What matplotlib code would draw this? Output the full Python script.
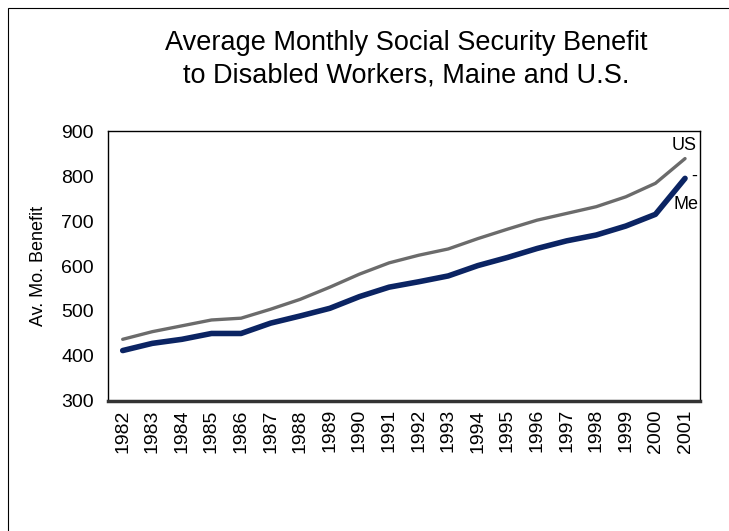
import matplotlib
matplotlib.use("Agg")
import matplotlib.pyplot as plt
from matplotlib.patches import Rectangle

plt.rcParams['font.family'] = ['Liberation Sans', 'DejaVu Sans']

# ----------- Data -----------
years = list(range(1982, 2002))
us_benefit = [437, 454, 467, 480, 484, 504, 526, 553, 582, 607,
              624, 638, 661, 682, 702, 717, 732, 754, 784, 839]
maine_benefit = [412, 428, 437, 450, 450, 473, 489, 506, 532, 553,
                 565, 578, 601, 619, 639, 656, 669, 689, 715, 795]
y_ticks = [300, 400, 500, 600, 700, 800, 900]

US_COLOR = "#6b6b6b"
ME_COLOR = "#0b2463"

fig = plt.figure(figsize=(7.29, 5.31), dpi=100)
ax = fig.add_axes([0.148, 0.245, 0.812, 0.508])

# outer chart-area border (runs off the right and bottom edges)
fig.patches.append(Rectangle((8 / 729, -0.1), 1.2, 1 - 8 / 531 + 0.1,
                             transform=fig.transFigure, fill=False,
                             edgecolor="black", linewidth=0.8))

ax.plot(years, us_benefit, color=US_COLOR, linewidth=2.4, solid_capstyle="round")
ax.plot(years, maine_benefit, color=ME_COLOR, linewidth=4.0, solid_capstyle="round")

ax.set_xlim(1981.5, 2001.5)
ax.set_ylim(300, 900)
ax.set_yticks(y_ticks)
ax.set_xticks(years)
ax.set_xticklabels([str(y) for y in years], rotation=90, fontsize=14)
ax.tick_params(axis="y", labelsize=14, length=0, pad=10)
ax.tick_params(axis="x", length=0, pad=6)
ax.set_ylabel("Av. Mo. Benefit", fontsize=13, labelpad=10)

for side in ["left", "top", "right"]:
    ax.spines[side].set_linewidth(1.0)
ax.spines["bottom"].set_linewidth(2.5)
ax.spines["bottom"].set_color("#333333")

# series labels at the line ends
ax.text(2001.4, us_benefit[-1] + 10, "US", fontsize=13, ha="right", va="bottom", zorder=5)
ax.text(2001.4, maine_benefit[-1] + 5, "-", fontsize=13, ha="right", va="center", zorder=5)
ax.text(2001.45, maine_benefit[-1] - 40, "Me", fontsize=13, ha="right", va="top", zorder=5)

fig.text(0.557, 0.888, "Average Monthly Social Security Benefit\nto Disabled Workers, Maine and U.S.",
         ha="center", va="center", fontsize=19.5, linespacing=1.35)

fig.savefig("out.png", dpi=100)
